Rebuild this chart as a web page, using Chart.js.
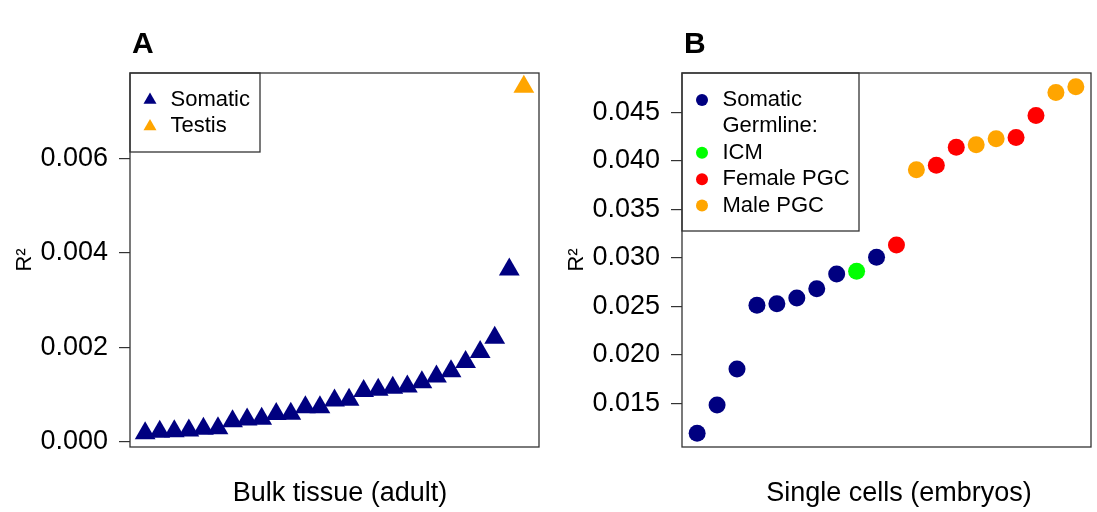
<!DOCTYPE html>
<html>
<head>
<meta charset="utf-8">
<title>R2 bulk tissue vs single cells</title>
<script src="https://cdn.jsdelivr.net/npm/chart.js"></script>
<style>
    body { margin: 0; background: #fff; }
    #wrap { position: relative; width: 1097px; height: 512px; }
    .panel { position: absolute; top: 0; }
</style>
</head>
<body>
<div id="wrap">
    <canvas id="canvasA" class="panel" style="left:0" width="548" height="512"></canvas>
    <canvas id="canvasB" class="panel" style="left:548px" width="549" height="512"></canvas>
</div>
<script>
// panel A: bulk tissue (adult), sorted R^2
var somaticA = [0.000178, 0.000206, 0.000220, 0.000234, 0.000270, 0.000284, 0.000433, 0.000468,
    0.000482, 0.000582, 0.000588, 0.000730, 0.000730, 0.000871, 0.000885, 0.00107, 0.00110,
    0.00114, 0.00117, 0.00126, 0.00138, 0.00149, 0.00169, 0.00190, 0.00220, 0.00365];
var testisA = [0.00753];
var ticksA = [0.000, 0.002, 0.004, 0.006];
var legendA = ['Somatic', 'Testis'];

// panel B: single cells (embryos), sorted R^2
var valuesB = [0.01191, 0.01482, 0.01854, 0.02510, 0.02527, 0.02586, 0.02682, 0.02833, 0.02861,
    0.03005, 0.03132, 0.03909, 0.03954, 0.04142, 0.04166, 0.04228, 0.04242, 0.04469, 0.04706, 0.04764];
var groupsB = ['Somatic', 'Somatic', 'Somatic', 'Somatic', 'Somatic', 'Somatic', 'Somatic', 'Somatic',
    'ICM', 'Somatic', 'Female PGC', 'Male PGC', 'Female PGC', 'Female PGC', 'Male PGC', 'Male PGC',
    'Female PGC', 'Female PGC', 'Male PGC', 'Male PGC'];
var ticksB = [0.015, 0.020, 0.025, 0.030, 0.035, 0.040, 0.045];
var legendB = ['Somatic', 'Germline:', 'ICM', 'Female PGC', 'Male PGC'];

var colores = {
    'Somatic': '#000080',
    'Testis': '#FFA500',
    'ICM': '#00FF00',
    'Female PGC': '#FF0000',
    'Male PGC': '#FFA500'
};

var familia = '"Liberation Sans", Arial, Helvetica, sans-serif';
Chart.defaults.font.family = familia;
Chart.defaults.color = '#000';

function marcador(ctx, estilo, x, y, r) {
    ctx.beginPath();
    if (estilo == 'triangle') {
        ctx.moveTo(x, y - r);
        ctx.lineTo(x + r * 0.866, y + r / 2);
        ctx.lineTo(x - r * 0.866, y + r / 2);
        ctx.closePath();
    } else {
        ctx.arc(x, y, r, 0, Math.PI * 2);
    }
    ctx.fill();
}

// box, panel letter, x label and legend, drawn the R way
var decorado = {
    id: 'decorado',
    afterDraw: function (chart, args, opts) {
        var ctx = chart.ctx;
        var a = chart.chartArea;
        ctx.save();
        ctx.strokeStyle = '#333';
        ctx.lineWidth = 1.3;
        ctx.strokeRect(a.left, a.top, a.right - a.left, a.bottom - a.top);

        ctx.fillStyle = '#000';
        ctx.textAlign = 'left';
        ctx.textBaseline = 'alphabetic';
        ctx.font = 'bold 30px ' + familia;
        ctx.fillText(opts.letra, a.left + 2, 53);

        ctx.textAlign = 'center';
        ctx.font = '27px ' + familia;
        ctx.fillText(opts.xLabel, opts.xLabelX, 501);

        ctx.strokeRect(a.left, a.top, opts.anchoLeyenda, opts.altoLeyenda);
        ctx.font = '22px ' + familia;
        ctx.textAlign = 'left';
        ctx.textBaseline = 'middle';
        opts.items.forEach(function (item, i) {
            var y = a.top + 27 + i * 26.4;
            if (colores[item]) {
                ctx.fillStyle = colores[item];
                marcador(ctx, opts.estilo, a.left + 20, y, opts.estilo == 'triangle' ? 7.5 : 6);
            }
            ctx.fillStyle = '#000';
            ctx.fillText(item, a.left + 40.5, y);
        });
        ctx.restore();
    }
};

function ejeY(min, max, ticks, ancho, tituloPad) {
    return {
        type: 'linear',
        position: 'left',
        min: min,
        max: max,
        afterFit: function (scale) { scale.width = ancho; },
        afterBuildTicks: function (scale) {
            scale.ticks = ticks.map(function (v) { return { value: v }; });
        },
        ticks: {
            padding: 11,
            font: { size: 27 },
            color: '#000',
            callback: function (v) { return v.toFixed(3); }
        },
        grid: { drawOnChartArea: false, drawTicks: true, tickLength: 11, color: '#333', lineWidth: 1.2 },
        border: { display: false },
        title: {
            display: true,
            text: 'R\u00B2',
            font: { size: 22 },
            color: '#000',
            padding: { top: tituloPad, bottom: 0 }
        }
    };
}

var ptsSomA = somaticA.map(function (v, i) { return { x: i + 1, y: v }; });
var ptsTesA = testisA.map(function (v, i) { return { x: somaticA.length + i + 1, y: v }; });

window.chartA = new Chart(document.getElementById('canvasA').getContext('2d'), {
    type: 'scatter',
    data: {
        datasets: [{
            label: 'Somatic',
            data: ptsSomA,
            pointStyle: 'triangle',
            pointRadius: 12,
            pointBorderWidth: 0,
            backgroundColor: colores['Somatic']
        }, {
            label: 'Testis',
            data: ptsTesA,
            pointStyle: 'triangle',
            pointRadius: 12,
            pointBorderWidth: 0,
            backgroundColor: colores['Testis']
        }]
    },
    options: {
        responsive: false,
        animation: false,
        devicePixelRatio: 1,
        events: [],
        layout: { autoPadding: false, padding: { left: 0, top: 73, right: 9, bottom: 65 } },
        scales: {
            x: { type: 'linear', display: false, min: -0.04, max: 28.04 },
            y: ejeY(-0.000116, 0.00782, ticksA, 130, 12)
        },
        plugins: {
            legend: { display: false },
            tooltip: { enabled: false },
            decorado: {
                letra: 'A',
                xLabel: 'Bulk tissue (adult)',
                xLabelX: 340,
                items: legendA,
                estilo: 'triangle',
                anchoLeyenda: 130,
                altoLeyenda: 79
            }
        }
    },
    plugins: [decorado]
});

var gruposB = ['Somatic', 'ICM', 'Female PGC', 'Male PGC'];
var datasetsB = gruposB.map(function (g) {
    var pts = [];
    valuesB.forEach(function (v, i) {
        if (groupsB[i] == g) pts.push({ x: i + 1, y: v });
    });
    return {
        label: g,
        data: pts,
        pointStyle: 'circle',
        pointRadius: 8.5,
        pointBorderWidth: 0,
        backgroundColor: colores[g]
    };
});

window.chartB = new Chart(document.getElementById('canvasB').getContext('2d'), {
    type: 'scatter',
    data: { datasets: datasetsB },
    options: {
        responsive: false,
        animation: false,
        devicePixelRatio: 1,
        events: [],
        layout: { autoPadding: false, padding: { left: 0, top: 73, right: 6, bottom: 65 } },
        scales: {
            x: { type: 'linear', display: false, min: 0.24, max: 20.76 },
            y: ejeY(0.01048, 0.04907, ticksB, 134, 16)
        },
        plugins: {
            legend: { display: false },
            tooltip: { enabled: false },
            decorado: {
                letra: 'B',
                xLabel: 'Single cells (embryos)',
                xLabelX: 351,
                items: legendB,
                estilo: 'circle',
                anchoLeyenda: 177,
                altoLeyenda: 158
            }
        }
    },
    plugins: [decorado]
});
</script>
</body>
</html>
